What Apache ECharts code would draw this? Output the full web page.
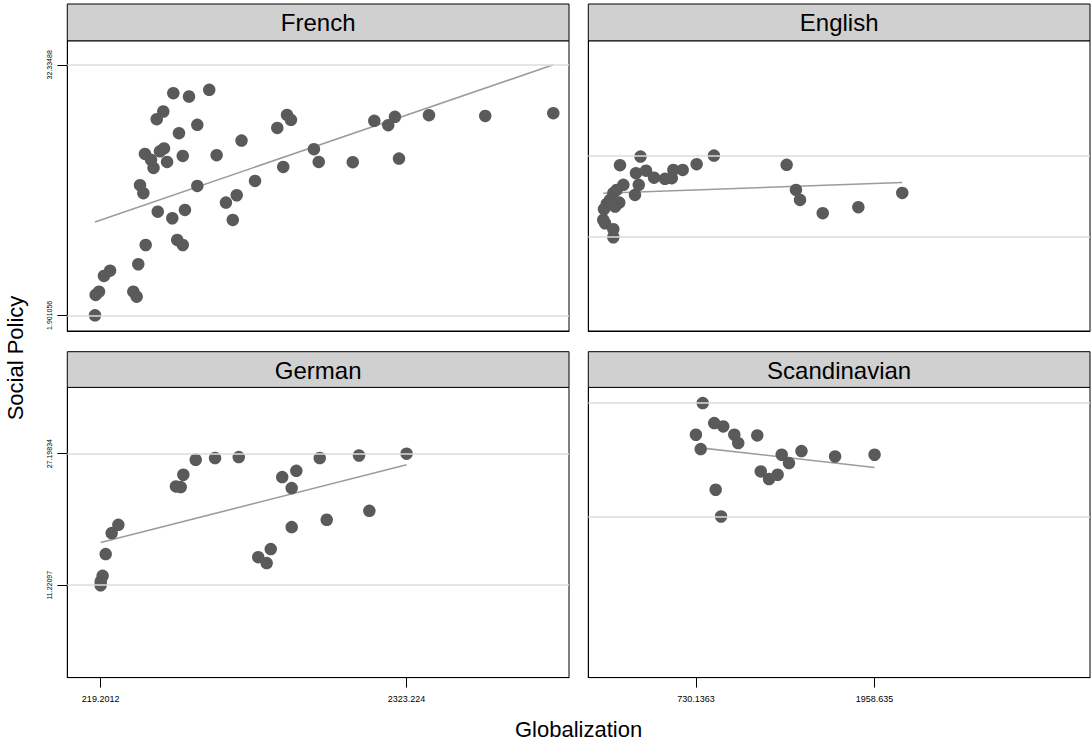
<!DOCTYPE html>
<html>
<head>
<meta charset="utf-8">
<script src="https://cdn.jsdelivr.net/npm/echarts@6/dist/echarts.min.js"></script>
<style>html,body{margin:0;padding:0;background:#fff}#c{width:1091px;height:740px}</style>
</head>
<body>
<div id="c"></div>
<script>
// ---------------- data ----------------
const panelNames = ['French', 'English', 'German', 'Scandinavian'];

const frenchPoints = [
  [180.5,1.901056],[185,4.38],[208,4.78],[242,6.69],[284,7.33],[444,4.78],[467,4.17],[478,8.11],
  [529,10.45],[490,17.71],[513,16.74],[524,21.51],[566,20.79],[583,19.81],[627,21.82],[655,22.18],
  [676,20.54],[605,25.73],[650,26.66],[719,28.89],[827,28.48],[966,29.29],[758,24.03],[884,25.04],
  [784,21.27],[1017,21.36],[1188,23.13],[884,17.62],[612,14.50],[712,13.70],[799,14.71],[746,11.06],
  [784,10.45],[1081,15.60],[1155,16.49],[1128,13.49],[1281,18.23],[1434,24.67],[1475,19.93],[1501,26.25],
  [1528,25.65],[1686,22.09],[1719,20.54],[1953,20.51],[2101,25.53],[2197,25.00],[2243,26.01],[2271,20.94],
  [2477,26.22],[2864,26.13],[3332,26.46]
];
const frenchFit = [[180.5,13.25],[3332,32.33488]];

const englishPoints = [
  [208,20.14],[349,21.19],[318,19.17],[387,19.48],[442,18.63],[517,18.48],[564,18.56],[575,19.57],
  [639,19.57],[735,20.26],[854,21.31],[231,17.75],[337,17.75],[311,16.53],[162,16.74],[185,17.14],
  [139,15.92],[117,15.44],[203,15.60],[174,15.11],[98,14.79],[93,13.49],[105,13.09],[162,12.36],
  [162,11.39],[1354,20.18],[1418,17.14],[1446,15.92],[1602,14.31],[1847,15.04],[2149,16.77]
];
const englishFit = [[93,16.74],[2149,18.03]];

const germanPoints = [
  [219.2012,11.22097],[220,11.67],[233,12.36],[254,15.00],[295,17.55],[341,18.56],[737,23.22],[770,23.14],
  [788,24.64],[873,26.46],[1006,26.67],[1169,26.79],[1303,14.63],[1361,13.91],[1389,15.61],[1468,24.36],
  [1565,25.12],[1533,23.02],[1533,18.28],[1726,26.67],[1774,19.17],[1996,26.98],[2067,20.26],[2323.224,27.19834]
];
const germanFit = [[219.2012,16.41],[2323.224,25.85]];

const scandPoints = [
  [777,33.35],[856,30.92],[918,30.51],[730.1363,29.50],[994,29.50],[1021,28.49],[1152,29.42],[763,27.76],
  [1320,27.07],[1370,26.06],[1456,27.52],[1176,25.04],[1233,24.12],[1292,24.64],[866,22.82],[903,19.57],
  [1687,26.86],[1958.635,27.07]
];
const scandFit = [[730.1363,27.96],[1958.635,25.53]];

// reference (grid) lines per panel
const frenchGrid = [1.901056, 32.33488];
const englishGrid = [11.39, 21.31];
const germanGrid = [11.22097, 27.19834];
const scandGrid = [19.57, 33.35];

// tick labels
const yTicksTop = ['1.901056', '32.33488'];
const yTicksBottom = ['11.22097', '27.19834'];
const xTicksLeft = ['219.2012', '2323.224'];
const xTicksRight = ['730.1363', '1958.635'];

const xTitle = 'Globalization';
const yTitle = 'Social Policy';

// ---------------- layout ----------------
const FONT = '"Liberation Sans", Arial, Helvetica, sans-serif';
const X_MIN = -10, X_MAX = 3440, Y_MIN = 0, Y_MAX = 35.25;
const PW = 501.7, PH = 290.2;
const COL_L = [67.3, 588.3];
const ROW_T = [40.8, 387.4];
const HEAD_T = [4, 351.7];

const panels = [
  {name: panelNames[0], pts: frenchPoints, fit: frenchFit, ref: frenchGrid, col: 0, row: 0, yT: yTicksTop, xT: xTicksLeft},
  {name: panelNames[1], pts: englishPoints, fit: englishFit, ref: englishGrid, col: 1, row: 0, yT: yTicksTop, xT: xTicksRight},
  {name: panelNames[2], pts: germanPoints, fit: germanFit, ref: germanGrid, col: 0, row: 1, yT: yTicksBottom, xT: xTicksLeft},
  {name: panelNames[3], pts: scandPoints, fit: scandFit, ref: scandGrid, col: 1, row: 1, yT: yTicksBottom, xT: xTicksRight}
];

const grids = [], xAxes = [], yAxes = [], series = [], graphics = [];

panels.forEach((p, i) => {
  const left = COL_L[p.col], top = ROW_T[p.row];
  const showX = p.row === 1, showY = p.col === 0;
  const xVals = p.xT.map(Number), yVals = p.yT.map(Number);
  grids.push({left: left, top: top, width: PW, height: PH, show: true, borderColor: '#000', borderWidth: 1,
              backgroundColor: '#fff', containLabel: false, outerBoundsMode: 'none'});
  xAxes.push({
    gridIndex: i, type: 'value', min: X_MIN, max: X_MAX,
    axisLine: {show: true, onZero: false, lineStyle: {color: '#000', width: 1}},
    splitLine: {show: false},
    axisTick: {show: showX, customValues: xVals, length: 10, lineStyle: {color: '#000', width: 1}},
    axisLabel: {show: showX, customValues: xVals, margin: 17, fontSize: 9, color: '#000', fontFamily: FONT,
                formatter: v => p.xT[xVals.indexOf(v)] ?? String(v)}
  });
  yAxes.push({
    gridIndex: i, type: 'value', min: Y_MIN, max: Y_MAX,
    axisLine: {show: true, onZero: false, lineStyle: {color: '#000', width: 1}},
    splitLine: {show: false},
    axisTick: {show: showY, customValues: yVals, length: 10, lineStyle: {color: '#000', width: 1}},
    axisLabel: {show: showY, customValues: yVals, margin: 14, fontSize: 7, color: '#000', fontFamily: FONT, rotate: 90,
                formatter: v => p.yT[yVals.indexOf(v)] ?? String(v)}
  });
  series.push({
    type: 'line', xAxisIndex: i, yAxisIndex: i, data: [], z: 1, silent: true,
    markLine: {silent: true, symbol: ['none', 'none'], label: {show: false}, animation: false,
               lineStyle: {color: '#dcdcdc', width: 1.6, type: 'solid'},
               emphasis: {disabled: true},
               data: p.ref.map(v => ({yAxis: v}))}
  });
  series.push({
    type: 'line', xAxisIndex: i, yAxisIndex: i, data: p.fit, z: 2, symbol: 'none', silent: true,
    lineStyle: {color: '#9c9c9c', width: 1.6}
  });
  series.push({
    type: 'scatter', xAxisIndex: i, yAxisIndex: i, data: p.pts, z: 3, symbol: 'circle', symbolSize: 12.5,
    itemStyle: {color: '#5a5a5a', opacity: 1}, silent: true
  });
  graphics.push({type: 'rect', shape: {x: left, y: HEAD_T[p.row], width: PW, height: top - HEAD_T[p.row]},
                 style: {fill: '#d0d0d0', stroke: '#000', lineWidth: 1}, silent: true});
  graphics.push({type: 'text', x: left + PW / 2, y: (HEAD_T[p.row] + top) / 2 + 0.5,
                 style: {text: p.name, fontSize: 24, fontFamily: FONT, fill: '#000',
                         align: 'center', verticalAlign: 'middle', textAlign: 'center', textVerticalAlign: 'middle'}});
});

graphics.push({type: 'text', x: 578.6, y: 729, style: {text: xTitle, fontSize: 22, fontFamily: FONT, fill: '#000',
               align: 'center', verticalAlign: 'middle', textAlign: 'center', textVerticalAlign: 'middle'}});
graphics.push({type: 'text', x: 15, y: 358, rotation: Math.PI / 2, style: {text: yTitle, fontSize: 22, fontFamily: FONT, fill: '#000',
               align: 'center', verticalAlign: 'middle', textAlign: 'center', textVerticalAlign: 'middle'}});

const chart = echarts.init(document.getElementById('c'), null, {renderer: 'svg'});
chart.setOption({
  animation: false,
  backgroundColor: '#fff',
  grid: grids,
  xAxis: xAxes,
  yAxis: yAxes,
  series: series,
  graphic: graphics
});
</script>
</body>
</html>
